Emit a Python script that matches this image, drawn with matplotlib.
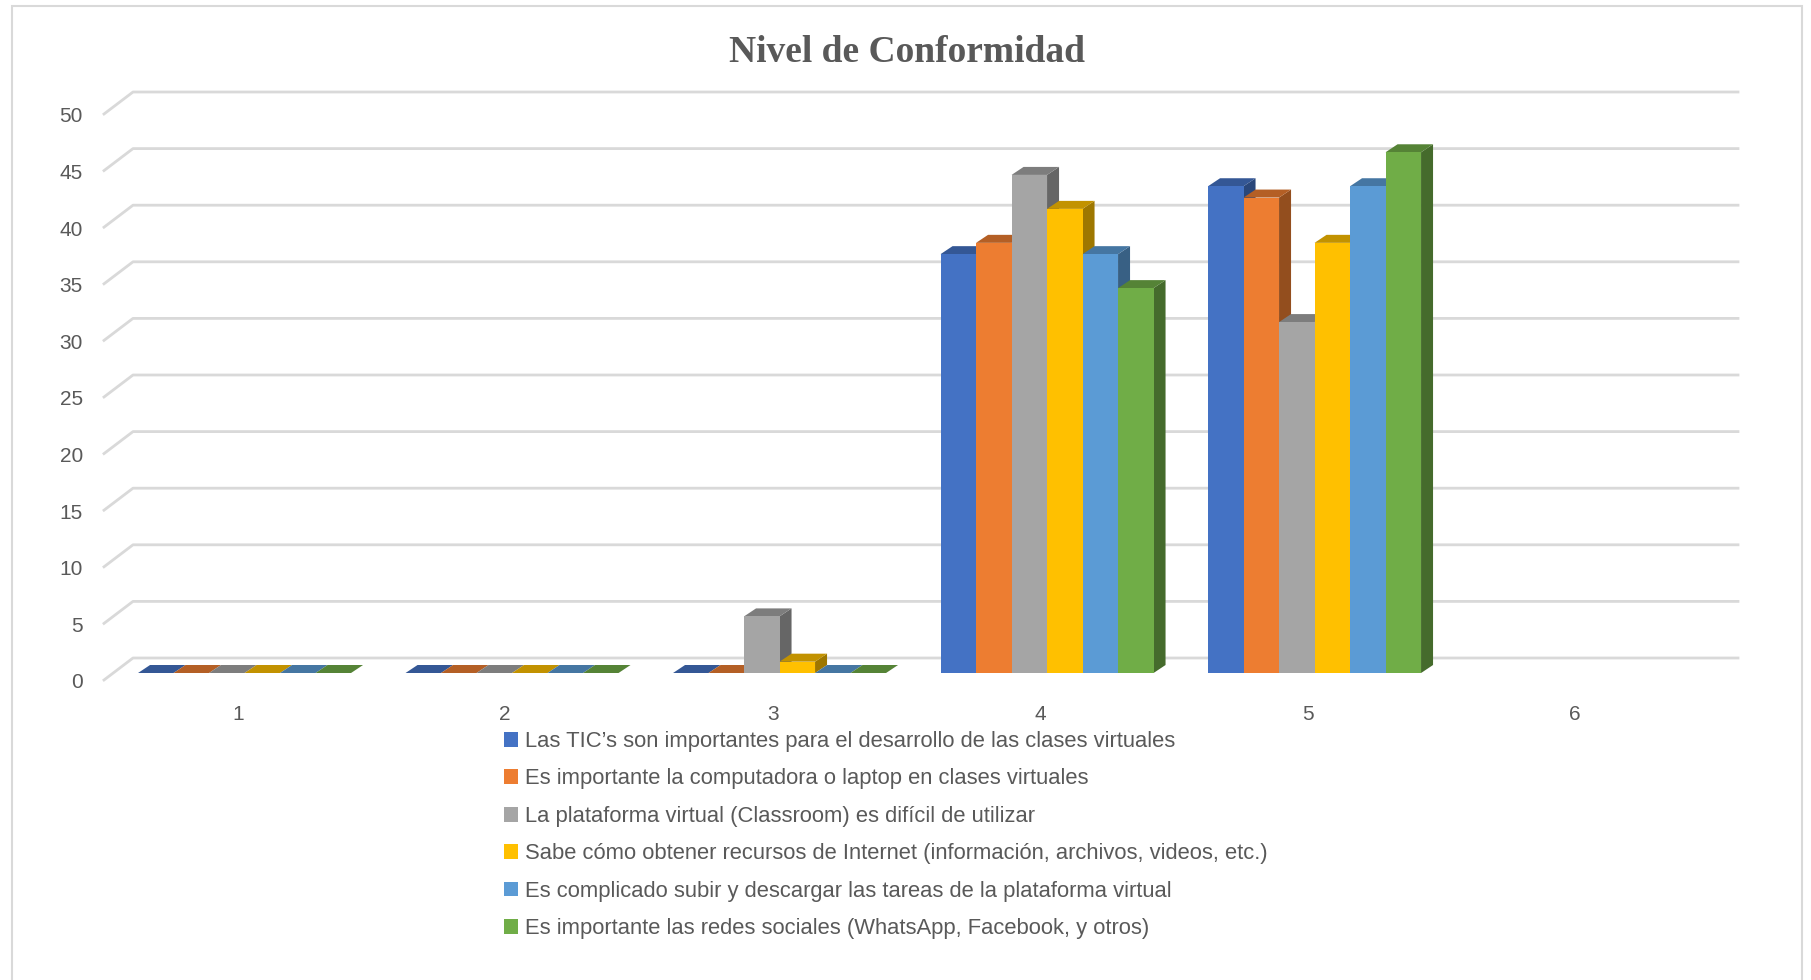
import numpy as np
import matplotlib.pyplot as plt
from matplotlib.patches import Polygon, Patch, Rectangle

# data
categories = ['1', '2', '3', '4', '5', '6']
series_names = [
    'Las TIC\u2019s son importantes para el desarrollo de las clases virtuales',
    'Es importante la computadora o laptop en clases virtuales',
    'La plataforma virtual (Classroom) es dif\u00edcil de utilizar',
    'Sabe c\u00f3mo obtener recursos de Internet (informaci\u00f3n, archivos, videos, etc.)',
    'Es complicado subir y descargar las tareas de la plataforma virtual',
    'Es importante las redes sociales (WhatsApp, Facebook, y otros)',
]
tic_importantes = [0, 0, 0, 37, 43]
computadora = [0, 0, 0, 38, 42]
plataforma_dificil = [0, 0, 5, 44, 31]
recursos_internet = [0, 0, 1, 41, 38]
subir_tareas = [0, 0, 0, 37, 43]
redes_sociales = [0, 0, 0, 34, 46]
series_values = [tic_importantes, computadora, plataforma_dificil,
                 recursos_internet, subir_tareas, redes_sociales]
yticks = np.arange(0, 51, 5)

colors = ['#4472C4', '#ED7D31', '#A5A5A5', '#FFC000', '#5B9BD5', '#70AD47']
grid_c = '#D9D9D9'
text_c = '#595959'
sans = ['Liberation Sans', 'DejaVu Sans']

W, H = 1811, 980
fig = plt.figure(figsize=(W / 100, H / 100), dpi=100)
fig.patch.set_facecolor('white')
fig.patches.append(Rectangle((12 / W, -0.05), (1802 - 12) / W, 1.05 - 6 / H,
                             transform=fig.transFigure, fill=False,
                             edgecolor=grid_c, lw=1.5))

# back wall of the plot: x 133..1738 px, value 0 at 658 px, 50 at 92 px
ax = fig.add_axes([133 / W, 1 - 658 / H, (1738 - 133) / W, (658 - 92) / H])
ax.set_xlim(0.5, 6.5)
ax.set_ylim(0, 50)
ax.axis('off')

px_x = 6 / (1738 - 133)      # category units per pixel
px_y = 50 / (658 - 92)       # value units per pixel

# floor depth (front edge vs back wall)
floor_dx = -29 * px_x
floor_dy = -22 * px_y

for v in yticks:
    ax.plot([0.5 + floor_dx, 0.5, 6.5], [v + floor_dy, v, v], color=grid_c,
            lw=2, clip_on=False, zorder=1)
    ax.text(0.5 + floor_dx - 21 * px_x, v + floor_dy - 3 * px_y, str(v), ha='right',
            va='center', fontsize=15, color=text_c, family=sans)

for i, lab in enumerate(categories):
    ax.text(i + 1 + floor_dx, -56 * px_y, lab, ha='center', va='center',
            fontsize=15, color=text_c, family=sans)


def shade(c, f):
    r, g, b = [int(c[k:k + 2], 16) / 255 for k in (1, 3, 5)]
    return (r * f, g * f, b * f)


# bars
bar_w = 35.5 * px_x
group_shift = -0.083
base = -15 * px_y
ddx = 12 * px_x
ddy = 8 * px_y
for j, vals in enumerate(series_values):
    c = colors[j]
    xs = np.arange(1, len(vals) + 1) + group_shift - 3 * bar_w + j * bar_w
    for x0, v in zip(xs, vals):
        top = base + v
        ax.add_patch(Polygon([(x0 + bar_w, base), (x0 + bar_w, top),
                              (x0 + bar_w + ddx, top + ddy), (x0 + bar_w + ddx, base + ddy)],
                             closed=True, facecolor=shade(c, 0.62), edgecolor='none',
                             clip_on=False, zorder=2))
        ax.add_patch(Polygon([(x0, top), (x0 + bar_w, top),
                              (x0 + bar_w + ddx, top + ddy), (x0 + ddx, top + ddy)],
                             closed=True, facecolor=shade(c, 0.76), edgecolor='none',
                             clip_on=False, zorder=2))
        ax.bar(x0, v, width=bar_w, bottom=base, align='edge', color=c,
               clip_on=False, zorder=2)

fig.text(907 / W, 1 - 52 / H, 'Nivel de Conformidad', ha='center', va='center',
         fontsize=27, fontweight='bold', color=text_c,
         family=['Liberation Serif', 'DejaVu Serif'])

handles = [Patch(facecolor=c, edgecolor='none') for c in colors]
fig.legend(handles, series_names, loc='upper left',
           bbox_to_anchor=(504 / W, 1 - 731 / H), frameon=False,
           prop={'family': sans, 'size': 15.8}, labelcolor=text_c,
           handlelength=0.65, handleheight=0.65, handletextpad=0.3,
           labelspacing=0.75, borderaxespad=0, borderpad=0)

fig.savefig('out.png', dpi=100, facecolor='white')
